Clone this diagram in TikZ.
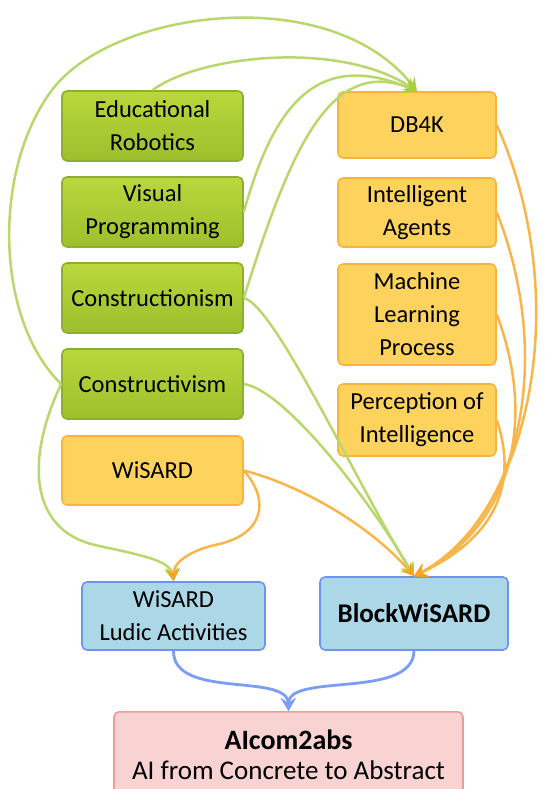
\documentclass[tikz,border=0pt]{standalone}
\usepackage{fontspec}
\setmainfont{Carlito}
\usetikzlibrary{arrows.meta}
\definecolor{gtop}{HTML}{BAD83C}
\definecolor{gbot}{HTML}{9CBF2C}
\definecolor{gdraw}{HTML}{8DAE2E}
\definecolor{gline}{HTML}{B8D86E}
\definecolor{gtip}{HTML}{A6CF3C}
\definecolor{ofill}{HTML}{FDD35E}
\definecolor{odraw}{HTML}{F9B43C}
\definecolor{oline}{HTML}{F8B54A}
\definecolor{otip}{HTML}{FBA21E}
\definecolor{bfill}{HTML}{ABD7E6}
\definecolor{bdraw}{HTML}{6E95EE}
\definecolor{bline}{HTML}{7B9DF7}
\definecolor{pfill}{HTML}{F9D2D2}
\definecolor{pdraw}{HTML}{F09A9A}
\tikzset{
  box/.style={rectangle, rounded corners=5pt, line width=1.6pt, align=center,
    font=\fontsize{24.5}{33}\selectfont, inner sep=0pt},
  gbox/.style={box, top color=gtop, bottom color=gbot, draw=gdraw, minimum width=181pt},
  obox/.style={box, fill=ofill, draw=odraw},
  bbox/.style={box, fill=bfill, draw=bdraw},
  pbox/.style={box, fill=pfill, draw=pdraw},
  garr/.style={-{Stealth[length=13pt,width=14pt,inset=5pt,color=gtip]}, draw=gline, line width=2.5pt},
  oarr/.style={-{Stealth[length=13pt,width=14pt,inset=5pt,color=otip]}, draw=oline, line width=2.5pt},
  barr/.style={-{Stealth[length=13pt,width=15pt,inset=5pt]}, draw=bline, line width=2.8pt}
}
\begin{document}
\begin{tikzpicture}[x=1pt,y=-1pt]
\useasboundingbox (0,0) rectangle (546,789);
\clip (0,0) rectangle (546,789);
% left column
\node[gbox, minimum height=70pt] (edu) at (152.5,126) {Educational\\Robotics};
\node[gbox, minimum height=70pt] (vis) at (152.5,212) {Visual\\Programming};
\node[gbox, minimum height=70pt] (cnstn) at (152.5,298) {Constructionism};
\node[gbox, minimum height=70pt] (cnstv) at (152.5,384) {Constructivism};
\node[obox, minimum width=181pt, minimum height=69pt] (wis) at (152.5,470.5) {WiSARD};
% right column
\node[obox, minimum width=158pt, minimum height=66pt] (db) at (417,125) {DB4K};
\node[obox, minimum width=158pt, minimum height=69pt] (ia) at (417,212.5) {Intelligent\\Agents};
\node[obox, minimum width=158pt, minimum height=101pt] (ml) at (417,314.5) {Machine\\Learning\\Process};
\node[obox, minimum width=158pt, minimum height=72pt] (pi) at (417,420) {Perception of\\Intelligence};
% lower
\node[bbox, minimum width=183pt, minimum height=68pt] (lud) at (173.5,616) {WiSARD\\Ludic Activities};
\node[bbox, minimum width=188pt, minimum height=73pt, font=\fontsize{27}{33}\selectfont\bfseries] (blk) at (414,613.5) {BlockWiSARD};
\node[pbox, minimum width=349pt, minimum height=100pt, anchor=north] (ai) at (288.5,711) {};
\node[font=\fontsize{28}{33}\selectfont\bfseries] (ait) at (288.5,740) {AIcom2abs};
\node[font=\fontsize{27}{33}\selectfont] (ais) at (288.5,770) {AI from Concrete to Abstract};
% green arrows to DB4K
\draw[garr] (cnstv.west) .. controls (-5,320) and (-8,170) .. (52,90)
   .. controls (112,10) and (330,-20) .. (db.north);
\draw[garr] (edu.north) .. controls (200,55) and (340,40) .. (db.north);
\draw[garr] (vis.east) .. controls (275,100) and (320,50) .. (db.north);
\draw[garr] (cnstn.east) .. controls (290,150) and (330,55) .. (db.north);
% green arrows to BlockWiSARD
\draw[garr] (cnstn.east) .. controls (275,305) and (360,490) .. (blk.north);
\draw[garr] (cnstv.east) .. controls (285,390) and (370,500) .. (blk.north);
% green arrow to Ludic
\draw[garr] (cnstv.west) .. controls (25,460) and (30,530) .. (95,545)
   .. controls (140,555) and (170,560) .. (lud.north);
% orange arrows
\draw[oarr] (wis.east) .. controls (300,485) and (370,525) .. (blk.north);
\draw[oarr] (wis.east) .. controls (270,500) and (265,535) .. (215,545)
   .. controls (185,552) and (173,565) .. (lud.north);
\draw[oarr] (db.east) .. controls (575,300) and (530,515) .. (blk.north);
\draw[oarr] (ia.east) .. controls (555,360) and (520,520) .. (blk.north);
\draw[oarr] (ml.east) .. controls (540,430) and (505,530) .. (blk.north);
\draw[oarr] (pi.east) .. controls (520,490) and (490,540) .. (blk.north);
% blue arrows
\draw[barr] (lud.south) .. controls (173,700) and (288,672) .. (ai.north);
\draw[barr] (blk.south) .. controls (413,700) and (288,672) .. (ai.north);
\end{tikzpicture}
\end{document}
